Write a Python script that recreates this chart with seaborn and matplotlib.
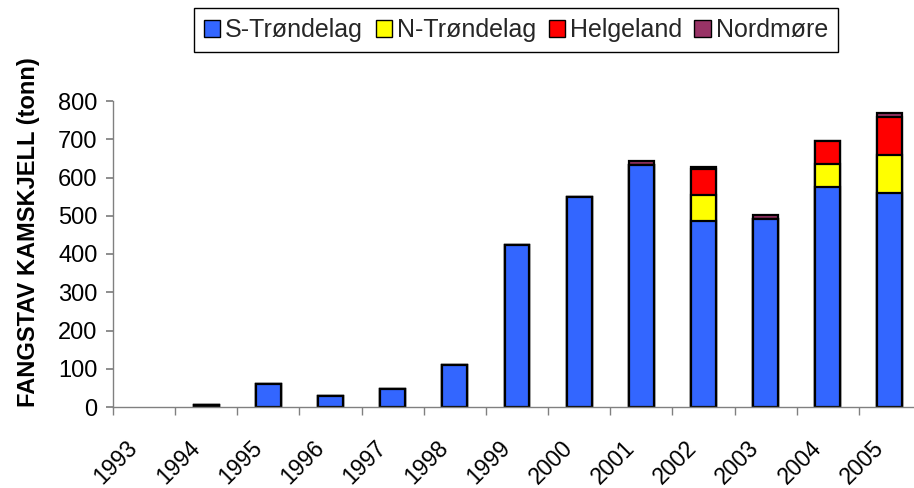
import matplotlib
matplotlib.use("Agg")
import matplotlib.pyplot as plt
import matplotlib.transforms as mtransforms
import seaborn as sns
import pandas as pd
import numpy as np

years = ["1993", "1994", "1995", "1996", "1997", "1998", "1999",
         "2000", "2001", "2002", "2003", "2004", "2005"]
s_trondelag = [0, 4, 60, 28, 48, 110, 423, 548, 632, 487, 491, 576, 559]
n_trondelag = [0, 0, 0, 0, 0, 0, 0, 0, 0, 67, 0, 58, 99]
helgeland = [0, 0, 0, 0, 0, 0, 0, 0, 0, 68, 0, 62, 99]
nordmore = [0, 1, 0, 0, 0, 0, 0, 0, 10, 5, 10, 0, 12]

series = ["S-Trøndelag", "N-Trøndelag", "Helgeland", "Nordmøre"]
colors = ["#3366FF", "#FFFF00", "#FF0000", "#993366"]

sns.set_theme(style="white")
plt.rcParams["font.family"] = ["Liberation Sans", "DejaVu Sans"]

df = pd.DataFrame({"year": years, "S-Trøndelag": s_trondelag,
                   "N-Trøndelag": n_trondelag, "Helgeland": helgeland,
                   "Nordmøre": nordmore})
cum = df[series].cumsum(axis=1)
cum["year"] = df["year"]

fig = plt.figure(figsize=(9.14, 4.88), dpi=100)
ax = fig.add_axes([113 / 914, 81 / 488, 808 / 914, 306 / 488])

# draw cumulative totals back to front so they look stacked
for name, col in reversed(list(zip(series, colors))):
    layer = cum[["year", name]].rename(columns={name: "val"})
    layer["val"] = layer["val"].replace(0, np.nan)
    sns.barplot(data=layer, x="year", y="val", order=years, color=col,
                edgecolor="black", linewidth=1.6, width=0.4, ax=ax,
                saturation=1, errorbar=None)

ax.set_xlim(-0.5, 12.5)
ax.set_ylim(0, 800)
ax.set_yticks(range(0, 801, 100))
ax.tick_params(axis="y", labelsize=17, labelcolor="black", length=5,
               color="#808080", left=True, pad=6)

ax.set_xticks(np.arange(len(years)))
ax.set_xticklabels(years, rotation=45, ha="right", rotation_mode="anchor",
                   fontsize=16.5, color="black")
ax.tick_params(axis="x", length=0, pad=21)
shift = mtransforms.ScaledTranslation(-18 / 100, 0, fig.dpi_scale_trans)
for lbl in ax.get_xticklabels():
    lbl.set_transform(lbl.get_transform() + shift)
ax.set_xticks(np.arange(len(years)) - 0.5, minor=True)
ax.tick_params(axis="x", which="minor", length=6, color="#808080", bottom=True)

for side in ["top", "right"]:
    ax.spines[side].set_visible(False)
for side in ["left", "bottom"]:
    ax.spines[side].set_color("#808080")
    ax.spines[side].set_linewidth(1)

ax.set_xlabel("")
ax.set_ylabel("FANGSTAV KAMSKJELL (tonn)", fontsize=17, fontweight="bold",
              color="black")
ax.yaxis.set_label_coords(-0.09, 0.57)

handles = [plt.Rectangle((0, 0), 1, 1, facecolor=c, edgecolor="black", linewidth=1)
           for c in colors]
fig.legend(handles, series, loc="upper center", bbox_to_anchor=(516 / 914, 1 - 8 / 488),
           ncol=4, fontsize=18, frameon=True, fancybox=False, edgecolor="black",
           handlelength=0.65, handleheight=0.65, handletextpad=0.2, columnspacing=0.5,
           borderpad=0.4, borderaxespad=0, framealpha=1)

fig.savefig("out.png", dpi=100)
